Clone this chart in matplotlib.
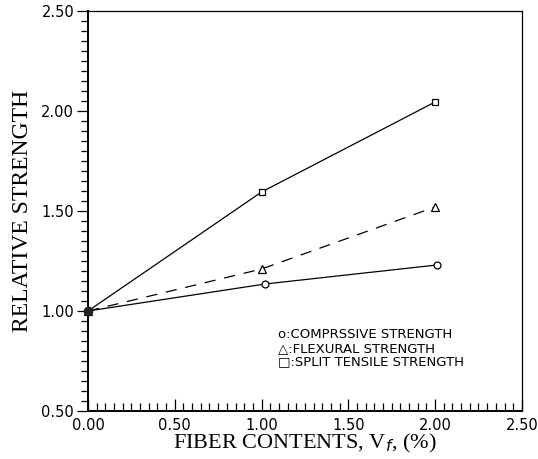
import numpy as np
import matplotlib
matplotlib.use('Agg')
import matplotlib.pyplot as plt
from matplotlib.ticker import MultipleLocator, FormatStrFormatter

# Data
fiber = [0.0, 1.0, 2.0]
compressive = [1.00, 1.135, 1.23]
flexural = [1.00, 1.21, 1.52]
split_tensile = [1.00, 1.595, 2.045]
fiber_comp = [0.0, 1.02, 2.01]

fig = plt.figure(figsize=(5.38, 4.59), dpi=100)
ax = fig.add_axes([0.1636, 0.1046, 0.8064, 0.8714])

ax.plot(fiber, split_tensile, color='black', lw=0.9, marker='s', ms=5,
        mfc='white', mec='black', mew=0.9, clip_on=False)
ax.plot(fiber, flexural, color='black', lw=0.9, ls=(0, (9, 7)), marker='^', ms=6,
        mfc='white', mec='black', mew=0.9, clip_on=False)
ax.plot(fiber_comp, compressive, color='black', lw=0.9, marker='o', ms=5,
        mfc='white', mec='black', mew=0.9, clip_on=False)
ax.plot([0.0], [1.0], marker='o', ms=6, color='#222222', clip_on=False, zorder=5)

ax.set_xlim(0, 2.5)
ax.set_ylim(0.5, 2.5)
ax.xaxis.set_major_locator(MultipleLocator(0.5))
ax.xaxis.set_minor_locator(MultipleLocator(0.05))
ax.yaxis.set_major_locator(MultipleLocator(0.5))
ax.yaxis.set_minor_locator(MultipleLocator(0.05))
ax.xaxis.set_major_formatter(FormatStrFormatter('%.2f'))
ax.yaxis.set_major_formatter(FormatStrFormatter('%.2f'))

ax.tick_params(axis='x', which='major', direction='in', length=9, width=0.9,
               top=False, labelsize=10.5, pad=5)
ax.tick_params(axis='x', which='minor', direction='in', length=6, width=0.9, top=False)
ax.tick_params(axis='y', which='major', direction='out', length=8, width=0.9,
               right=False, labelsize=10.5, pad=2)
ax.tick_params(axis='y', which='minor', direction='out', length=5, width=0.9, right=False)

for lab in ax.get_xticklabels() + ax.get_yticklabels():
    lab.set_family('DejaVu Sans')

for s in ax.spines.values():
    s.set_linewidth(0.9)
ax.spines['left'].set_linewidth(1.4)
ax.spines['bottom'].set_linewidth(1.4)

ax.set_xlabel('FIBER CONTENTS, V$_{f}$, (%)', family='Liberation Serif',
              fontsize=16, labelpad=-1)
ax.set_ylabel('RELATIVE STRENGTH', family='Liberation Serif', fontsize=17, labelpad=6)

legend_lines = ['o:COMPRSSIVE STRENGTH', '\u25b3:FLEXURAL STRENGTH', '\u25a1:SPLIT TENSILE STRENGTH']
for i, t in enumerate(legend_lines):
    ax.text(0.438, 0.19 - i * 0.034, t, transform=ax.transAxes,
            fontsize=9.5, family='DejaVu Sans', va='center', ha='left')

fig.savefig('out.png', dpi=100)
